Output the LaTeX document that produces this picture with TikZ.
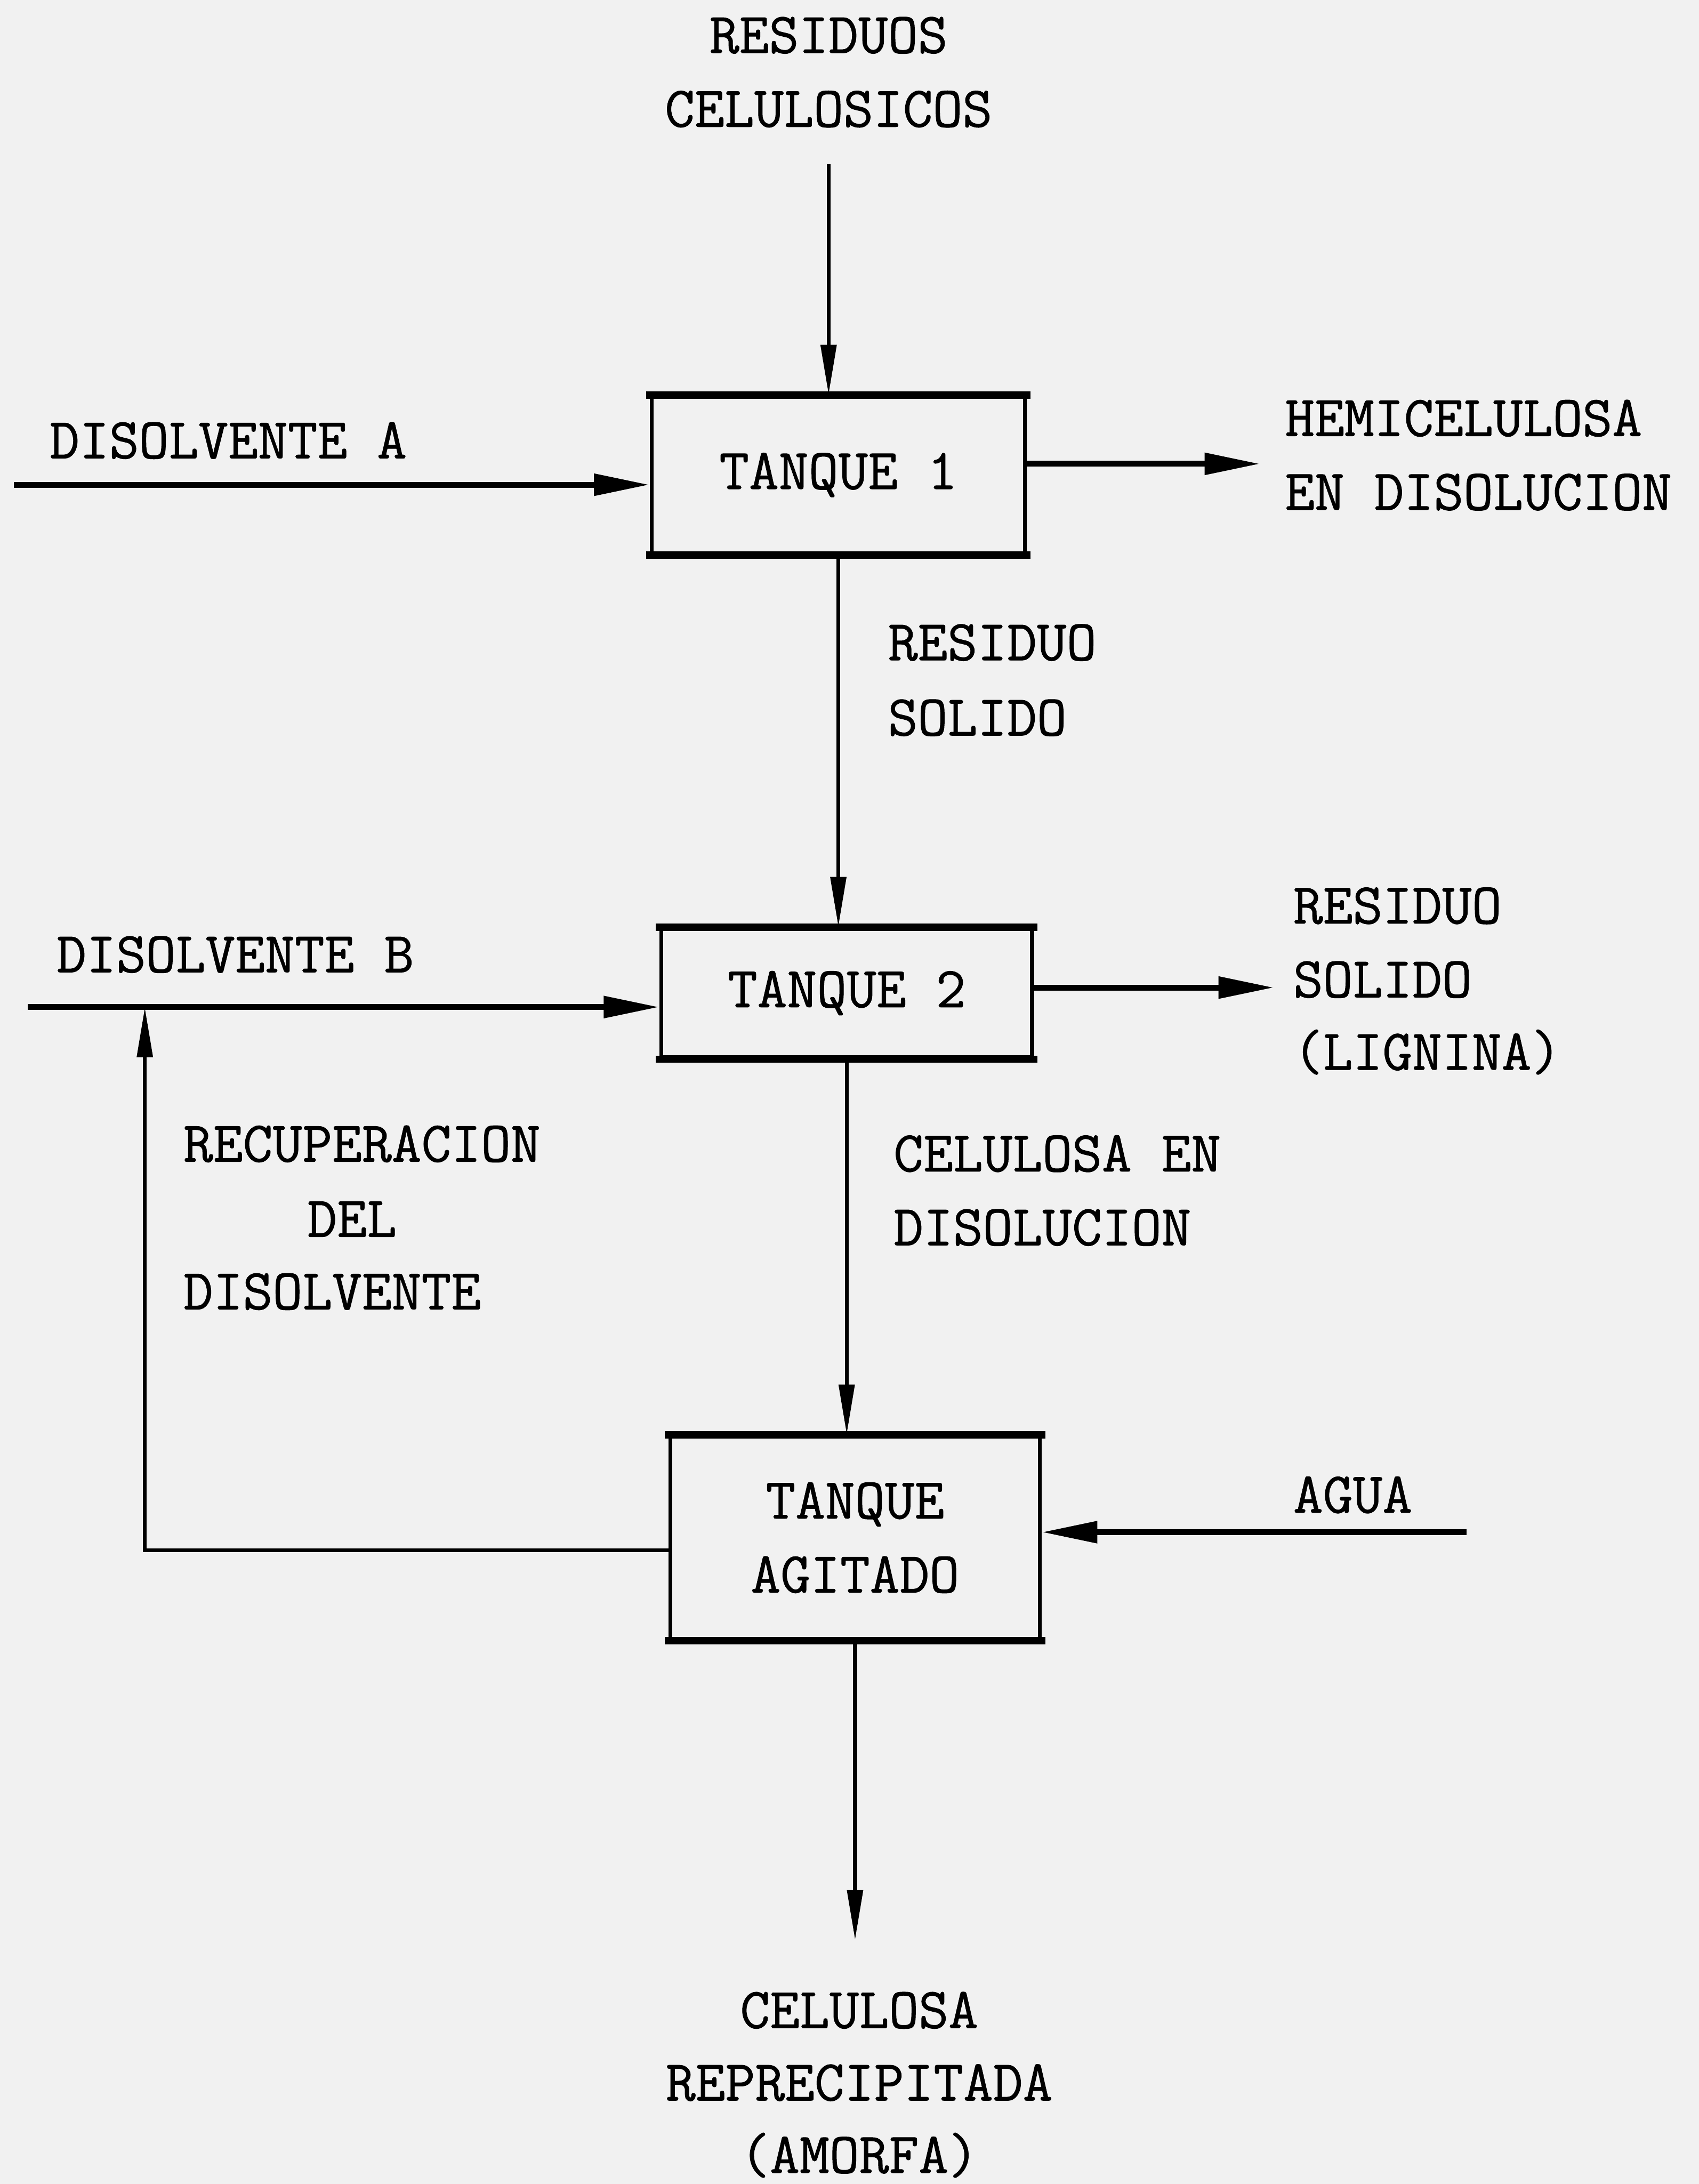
\documentclass[tikz,border=0pt]{standalone}
\usepackage{fontspec}
\setmonofont{Latin Modern Mono}[FakeBold=0.9]
\usetikzlibrary{arrows.meta}
\definecolor{paper}{RGB}{241,241,241}
\begin{document}
\begin{tikzpicture}[x=0.01cm,y=-0.01cm,
  lbl/.style={font=\ttfamily\fontsize{11.8}{15.1}\selectfont, inner sep=0pt},
  tank/.style={draw, line width=0.8pt, inner sep=0pt, align=center,
               font=\ttfamily\fontsize{11.8}{15.1}\selectfont},
  hline/.style={line width=1.2pt},
  vline/.style={line width=0.8pt},
  hhead/.style={-{Triangle[length=4mm,width=1.5mm]}},
  vhead/.style={-{Triangle[length=3.6mm,width=1.1mm]}},
  tankedge/.style={line width=1.5pt, line cap=rect}]
\fill[paper] (0,0) rectangle (1220,1568);
\useasboundingbox (0,0) rectangle (1220,1568);

% tanks
\node[tank, minimum width=2.68cm, minimum height=1.12cm] (t1) at (602,341) {TANQUE 1};
\node[tank, minimum width=2.66cm, minimum height=0.92cm] (t2) at (608,713) {TANQUE 2};
\node[tank, minimum width=2.65cm, minimum height=1.45cm] (t3) at (614,1104) {TANQUE\\AGITADO};
\foreach \n in {t1,t2,t3}{
  \draw[tankedge] (\n.north west) -- (\n.north east);
  \draw[tankedge] (\n.south west) -- (\n.south east);
}

% labels
\node[lbl, anchor=base] (l1a) at (595,38) {RESIDUOS};
\node[lbl, anchor=base] (l1b) at (595,91) {CELULOSICOS};
\node[lbl, anchor=base west] (lda) at (35,329) {DISOLVENTE A};
\node[lbl, anchor=base west] (lh1) at (922,313) {HEMICELULOSA};
\node[lbl, anchor=base west] (lh2) at (922,366) {EN DISOLUCION};
\node[lbl, anchor=base west] (lr1) at (637,474) {RESIDUO};
\node[lbl, anchor=base west] (lr2) at (637,528) {SOLIDO};
\node[lbl, anchor=base west] (ldb) at (40,698) {DISOLVENTE B};
\node[lbl, anchor=base west] (ls1) at (928,663) {RESIDUO};
\node[lbl, anchor=base west] (ls2) at (928,716) {SOLIDO};
\node[lbl, anchor=base west] (ls3) at (928,768) {(LIGNINA)};
\node[lbl, anchor=base west] (lrec1) at (131,834) {RECUPERACION};
\node[lbl, anchor=base west] (lrec2) at (220,888) {DEL};
\node[lbl, anchor=base west] (lrec3) at (131,940) {DISOLVENTE};
\node[lbl, anchor=base west] (lc1) at (641,841) {CELULOSA EN};
\node[lbl, anchor=base west] (lc2) at (641,894) {DISOLUCION};
\node[lbl, anchor=base west] (lag) at (928,1086) {AGUA};
\node[lbl, anchor=base] (lo1) at (617,1456) {CELULOSA};
\node[lbl, anchor=base] (lo2) at (617,1508) {REPRECIPITADA};
\node[lbl, anchor=base] (lo3) at (617,1560) {(AMORFA)};

% connectors
\coordinate (src) at (595,118);
\draw[vline, vhead] (src) -- (src |- t1.north);
\coordinate (da) at (10,348);
\draw[hline, hhead] (da) -- (da -| t1.west);
\coordinate (hemi) at (905,333);
\draw[hline, hhead] (t1.east |- hemi) -- (hemi);
\draw[vline, vhead] (t1.south) -- (t1.south |- t2.north);
\coordinate (db) at (20,723);
\draw[hline, hhead] (db) -- (db -| t2.west);
\coordinate (lig) at (915,709);
\draw[hline, hhead] (t2.east |- lig) -- (lig);
\draw[vline, vhead] (t2.south) -- (t2.south |- t3.north);
\coordinate (rc) at (104,1113);
\draw[vline, vhead] (t3.west |- rc) -- (rc) -- (rc |- db);
\coordinate (agua) at (1053,1100);
\draw[hline, hhead] (agua) -- (agua -| t3.east);
\coordinate (out) at (616,1393);
\draw[vline, vhead] (t3.south) -- (t3.south |- out);
\end{tikzpicture}
\end{document}
